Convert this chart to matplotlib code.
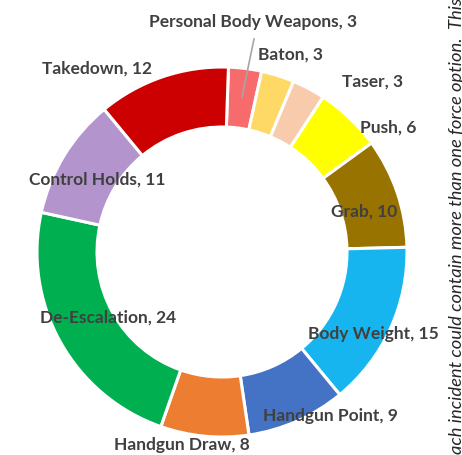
import matplotlib
matplotlib.use("Agg")
import matplotlib.pyplot as plt

# force options, clockwise from the top
names = ["Personal Body Weapons", "Baton", "Taser", "Push", "Grab", "Body Weight",
         "Handgun Point", "Handgun Draw", "De-Escalation", "Control Holds", "Takedown"]
counts = [3, 3, 3, 6, 10, 15, 9, 8, 24, 11, 12]
colors = ["#F76B6D", "#FFD966", "#F8CBAD", "#FFFF00", "#997300", "#17B5F0",
          "#4472C4", "#ED7D31", "#00B050", "#B394CC", "#CC0000"]

# label centres in pixel coords (x from left, y from top)
label_pos = [(253, 22), (291, 55), (373, 82), (388, 128), (364, 212), (373, 334),
             (330, 416), (182, 445), (108, 318), (97, 180), (97, 69)]
note = "ach incident could contain more than one force option.  This"

W, H = 462, 456
fig = plt.figure(figsize=(W / 100, H / 100), dpi=100)
ax = fig.add_axes([0, 0, 1, 1])

cx, cy, R = 222, H - 253, 185
ax.pie(counts, colors=colors, startangle=88, counterclock=False,
       center=(cx, cy), radius=R, frame=True,
       wedgeprops=dict(width=R - 125, edgecolor="white", linewidth=2.2))
ax.set_xlim(0, W)
ax.set_ylim(0, H)
ax.set_aspect("equal")
ax.axis("off")

for n, c, (x, y) in zip(names, counts, label_pos):
    ax.text(x, H - y, f"{n}, {c}", ha="center", va="center", fontsize=12.5,
            fontweight="bold", color="#404040", family=["Lato", "DejaVu Sans"])

# leader line for the small first slice
ax.plot([254, 242], [H - 40, H - 98], color="#A6A6A6", lw=1.2)

ax.text(457, H / 2 + 2, note, rotation=90, ha="center", va="center", fontsize=13.2,
        style="italic", color="#262626", family=["Lato", "DejaVu Sans"])

fig.savefig("out.png", dpi=100)
